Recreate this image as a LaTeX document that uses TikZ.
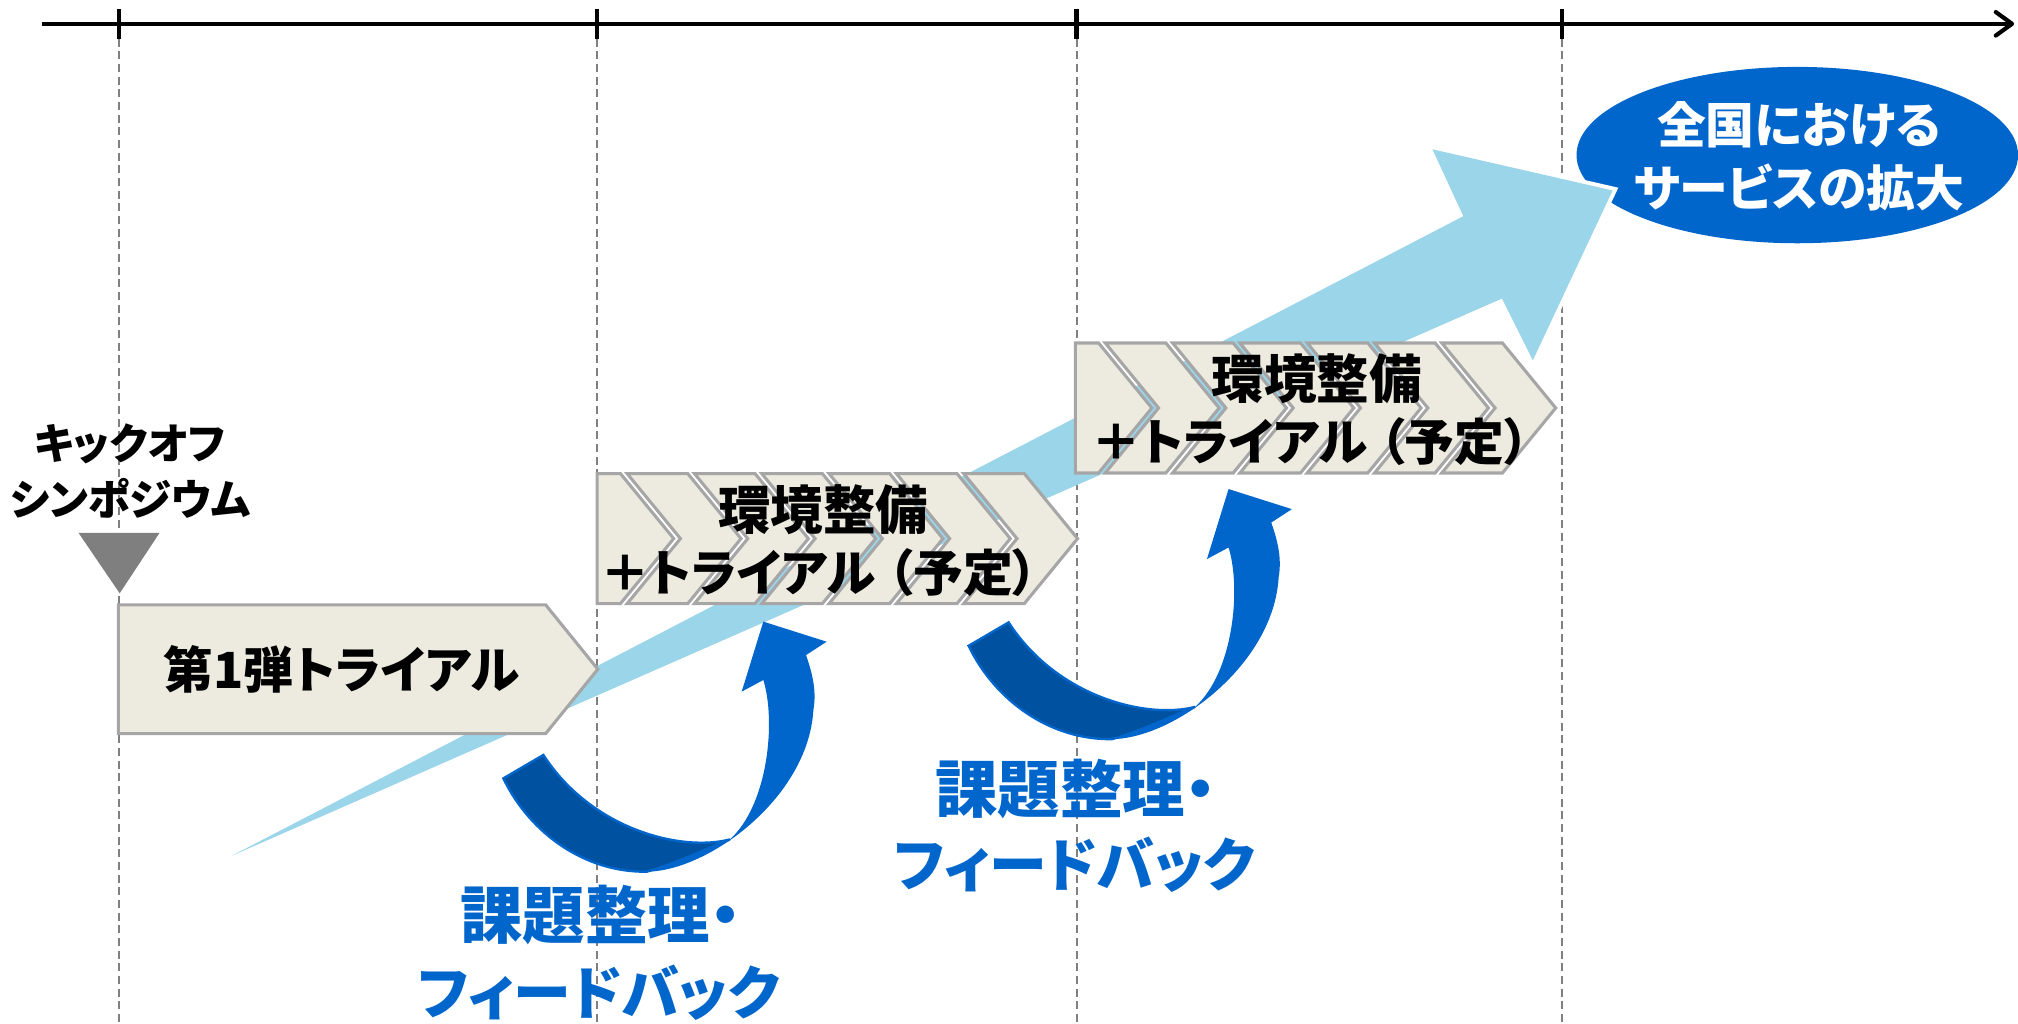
\documentclass[tikz,border=0pt]{standalone}
\usepackage{fontspec}
\newfontfamily\jpp[RawFeature=+palt]{Noto Sans CJK JP}
\usetikzlibrary{arrows.meta,shapes.geometric}
\definecolor{guidegray}{RGB}{128,128,128}
\definecolor{chevfill}{RGB}{237,235,224}
\definecolor{chevline}{RGB}{166,166,166}
\definecolor{skyblue}{RGB}{155,213,234}
\definecolor{mainblue}{RGB}{0,102,204}
\definecolor{darkblue}{RGB}{0,82,160}
\definecolor{trigray}{RGB}{127,127,127}
\tikzset{
  axisline/.style={line width=2.3pt, black},
  guide/.style={guidegray, line width=1.1pt, dash pattern=on 4.4pt off 2.6pt},
  chevbox/.style={fill=chevfill, draw=chevline, line width=1.7pt},
  skyfill/.style={fill=skyblue},
  skyhalo/.style={draw=white, line width=4.4pt, line join=miter},
  ribbonlight/.style={fill=mainblue},
  ribbondark/.style={fill=darkblue, draw=mainblue, line width=1.3pt},
  kicklabel/.style={text=black, inner sep=0pt, font=\jpp\bfseries\fontsize{23.5pt}{28pt}\selectfont},
  blacklabel/.style={text=black, inner sep=0pt, font=\jpp\bfseries\fontsize{29pt}{35pt}\selectfont},
  blacksub/.style={text=black, inner sep=0pt, font=\jpp\bfseries\fontsize{27.5pt}{33pt}\selectfont},
  triallabel/.style={text=black, inner sep=0pt, font=\jpp\bfseries\fontsize{27.5pt}{33pt}\selectfont},
  whitelabel/.style={text=white, inner sep=0pt, font=\jpp\bfseries\fontsize{27pt}{33pt}\selectfont},
  bluelabel/.style={text=mainblue, inner sep=0pt, font=\jpp\bfseries\fontsize{34.5pt}{40pt}\selectfont},
  bluesub/.style={text=mainblue, inner sep=0pt, font=\jpp\bfseries\fontsize{32pt}{40pt}\selectfont},
  feedback/.pic={
    \fill[ribbonlight] (391.1,604.8) .. controls (412,648) and (455,678) .. (502.5,677.3)
      .. controls (550,677) and (628,620) .. (632,551.7)
      .. controls (635,535) and (630,520) .. (626.3,509)
      -- (642.3,498.6) -- (593.1,483) -- (576.3,537.4) -- (593.1,528.4)
      .. controls (603,560) and (597,625) .. (567.2,652.2)
      .. controls (530,662) and (460,645) .. (422.2,586.6) -- cycle;
    \draw[ribbondark] (391.1,604.8) .. controls (412,648) and (455,678) .. (502.5,677.3)
      .. controls (522,672) and (548,660) .. (567.2,652.2)
      .. controls (530,662) and (460,645) .. (422.2,586.6) -- cycle;
  }
}
\begin{document}
\begin{tikzpicture}[x=0.025cm,y=-0.025cm]
\useasboundingbox (0,0) rectangle (1568,795);
% axis
\coordinate (axL) at (33,18.5);
\coordinate (axR) at (1565,18.5);
\draw[axisline,-{Straight Barb[round,length=9pt,width=13pt]}] (axL) -- (axR);
\foreach \tx/\nm in {92.5/a,464/b,836.5/c,1213.5/d}{
  \coordinate (top\nm) at (\tx,7);
  \coordinate (tk\nm) at (\tx,30);
  \coordinate (bot\nm) at (\tx,795);
  \draw[axisline] (top\nm) -- (tk\nm);
  \draw[guide] (tk\nm) -- (bot\nm);
}
% goal ellipse
\node[ellipse, fill=mainblue, minimum width=8.575cm, minimum height=3.425cm, inner sep=0pt] (goal) at (1396.5,120.5) {};
% big light blue arrow: white halo round the head, then the fill
\draw[skyhalo] (1137,168) -- (1113,116) -- (1253,148) -- (1191,280) -- (1167,232);
\fill[skyfill] (180,665) -- (1137,168) -- (1113,116) -- (1253,148) -- (1191,280) -- (1167,232) -- cycle;
% first trial pentagon
\draw[chevbox] (92,470) -- (424,470) -- (464.5,520) -- (424,570) -- (92,570) -- cycle;
% chevron groups
\foreach \gx/\gy in {464/368, 835.5/266.5}{
  \draw[chevbox] (\gx,\gy) -- ++(18.1,0) -- ++(41.4,50.5) -- ++(-41.4,50.5) -- ++(-18.1,0) -- cycle;
  \foreach \k in {1,...,6}{
    \pgfmathsetmacro\ax{\gx+18.1+(\k-1)*52.3+5.2}
    \draw[chevbox] (\ax,\gy) -- ++(47.1,0) -- ++(41.4,50.5) -- ++(-41.4,50.5) -- ++(-47.1,0) -- ++(41.4,-50.5) -- cycle;
  }
}
% kickoff marker
\fill[trigray] (61,414) -- (124,414) -- (93,461) -- cycle;
% feedback arrows
\pic (fbA) at (0,0) {feedback};
\pic (fbB) at (361.5,-103) {feedback};
% labels
\node[kicklabel] (kick1) at (101,345) {キックオフ};
\node[kicklabel] (kick2) at (101.5,387) {シンポジウム};
\node[triallabel] (trial1) at (265.5,520) {第1弾トライアル};
\node[blacklabel] (g2a) at (639.5,396) {環境整備};
\node[blacksub, anchor=west] (g2b) at (466,445) {＋トライアル\hspace{0.25em}（予定）};
\node[blacklabel] (g3a) at (1023,294) {環境整備};
\node[blacksub, anchor=west] (g3b) at (848,343) {＋トライアル\hspace{0.25em}（予定）};
\node[whitelabel] (goal1) at (1398,97) {全国における};
\node[whitelabel] (goal2) at (1398,146) {サービスの拡大};
\node[bluelabel] (fb1a) at (467,711) {課題整理・};
\node[bluesub] (fb1b) at (465.5,771) {フィードバック};
\node[bluelabel] (fb2a) at (836,613) {課題整理・};
\node[bluesub] (fb2b) at (835,672) {フィードバック};
\end{tikzpicture}
\end{document}
